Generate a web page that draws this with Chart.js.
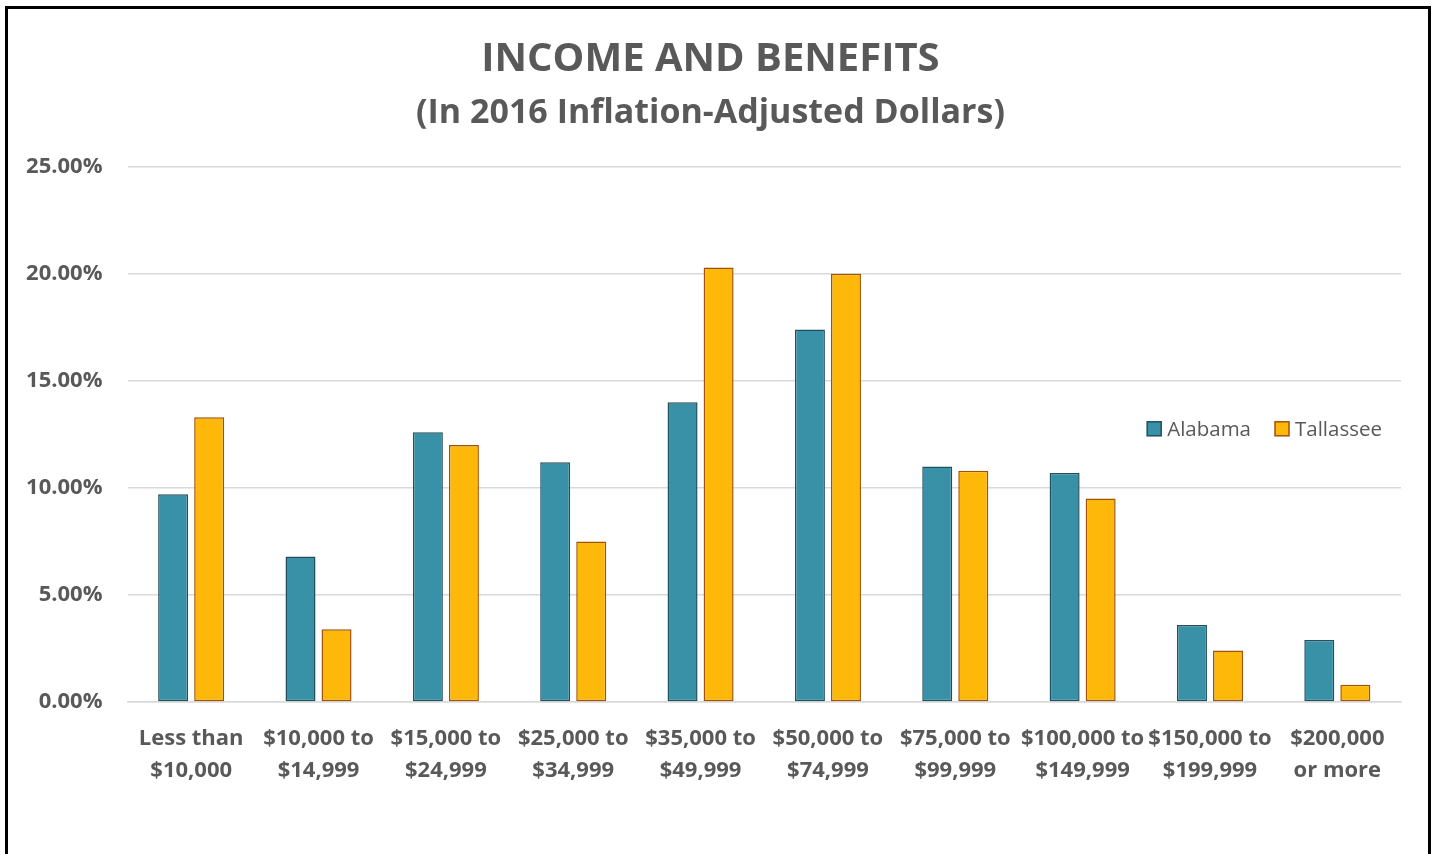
<!DOCTYPE html>
<html>
<head>
<meta charset="utf-8">
<script src="https://cdn.jsdelivr.net/npm/chart.js@4/dist/chart.umd.min.js"></script>
<style>
  html, body { margin: 0; padding: 0; background: #fff; overflow: hidden; }
  #wrap { position: absolute; left: 0; top: 0; width: 1439px; height: 854px; }
  #frame { position: absolute; left: 5px; top: 6px; width: 1420px; height: 900px; border: 3px solid #000; pointer-events: none; }
</style>
</head>
<body>
<div id="wrap"><canvas id="c" width="1439" height="854"></canvas></div>
<div id="frame"></div>
<script>
const categories = [
  ['Less than', '$10,000'],
  ['$10,000 to', '$14,999'],
  ['$15,000 to', '$24,999'],
  ['$25,000 to', '$34,999'],
  ['$35,000 to', '$49,999'],
  ['$50,000 to', '$74,999'],
  ['$75,000 to', '$99,999'],
  ['$100,000 to', '$149,999'],
  ['$150,000 to', '$199,999'],
  ['$200,000', 'or more']
];
const alabama   = [9.7, 6.8, 12.6, 11.2, 14.0, 17.4, 11.0, 10.7, 3.6, 2.9];
const tallassee = [13.3, 3.4, 12.0, 7.5, 20.3, 20.0, 10.8, 9.5, 2.4, 0.8];
const seriesNames = ['Alabama', 'Tallassee'];
const titleText = 'INCOME AND BENEFITS';
const subtitleText = '(In 2016 Inflation-Adjusted Dollars)';

const FONT = "'Open Sans', 'Noto Sans', sans-serif";
const TEXT = '#595959';

const legendPlugin = {
  id: 'innerLegend',
  afterDraw(chart) {
    const ctx = chart.ctx;
    const area = chart.chartArea;
    ctx.save();
    ctx.font = "400 20.5px " + FONT;
    ctx.textBaseline = 'middle';
    const y = area.top + (428 - 166);
    const box = 14, gapBoxText = 6, gapItems = 24;
    const items = chart.data.datasets.map(d => ({ label: d.label, fill: d.backgroundColor, stroke: d.borderColor, w: ctx.measureText(d.label).width }));
    let total = 0;
    items.forEach((it, i) => { total += box + gapBoxText + it.w + (i ? gapItems : 0); });
    let x = area.right - 19 - total;
    items.forEach((it, i) => {
      if (i) x += gapItems;
      ctx.fillStyle = it.fill;
      ctx.fillRect(x, y - box / 2, box, box);
      ctx.lineWidth = 1.5;
      ctx.strokeStyle = it.stroke;
      ctx.strokeRect(x, y - box / 2, box, box);
      x += box + gapBoxText;
      ctx.fillStyle = TEXT;
      ctx.textAlign = 'left';
      ctx.fillText(it.label, x, y + 1);
      x += it.w;
    });
    ctx.restore();
  }
};

new Chart(document.getElementById('c'), {
  type: 'bar',
  data: {
    labels: categories,
    datasets: [
      { label: seriesNames[0], data: alabama, backgroundColor: '#3891A7', borderColor: '#21505E', borderWidth: 1.5, borderSkipped: false },
      { label: seriesNames[1], data: tallassee, backgroundColor: '#FEB80A', borderColor: '#A0520A', borderWidth: 1.5, borderSkipped: false }
    ]
  },
  options: {
    responsive: false,
    animation: false,
    devicePixelRatio: 1,
    categoryPercentage: 0.566,
    barPercentage: 0.833,
    layout: { padding: { left: 20, right: 38, top: 36, bottom: 0 } },
    plugins: {
      legend: { display: false },
      tooltip: { enabled: false },
      title: {
        display: true, text: titleText, color: TEXT,
        font: { family: FONT, size: 40, weight: 'bold', lineHeight: 1.2 },
        padding: { top: 0, bottom: 9 }
      },
      subtitle: {
        display: true, text: subtitleText, color: TEXT,
        font: { family: FONT, size: 34, weight: 'bold', lineHeight: 1.2 },
        padding: { top: 0, bottom: 33 }
      }
    },
    scales: {
      x: {
        grid: { display: false, drawTicks: false },
        border: { display: true, color: '#d9d9d9', width: 1.5 },
        ticks: { color: TEXT, padding: 21, font: { family: FONT, size: 22, weight: 'bold', lineHeight: 1.45 }, maxRotation: 0, autoSkip: false },
        afterFit(scale) { scale.height = 152; }
      },
      y: {
        min: 0, max: 25,
        grid: { color: '#d9d9d9', lineWidth: 1.5, drawTicks: false },
        border: { display: false },
        ticks: { stepSize: 5, color: TEXT, padding: 25, font: { family: FONT, size: 22, weight: 'bold' }, callback: v => v.toFixed(2) + '%' },
        afterFit(scale) { scale.width = 107.5; }
      }
    }
  },
  plugins: [legendPlugin]
});
</script>
</body>
</html>
